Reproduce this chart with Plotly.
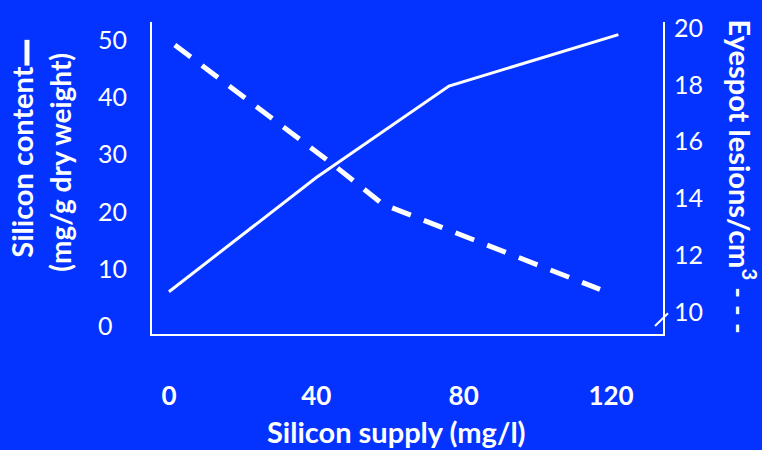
import plotly.graph_objects as go

# Data
supply_si = [0, 40, 76, 122]          # Silicon supply (mg/l) for silicon content line
si_content = [6, 26, 42, 51]          # Silicon content (mg/g dry weight)
supply_eye = [1.6, 44.5, 58, 117]     # Silicon supply (mg/l) for eyespot line
eyespot = [19.4, 15.2, 13.8, 10.8]    # Eyespot lesions/cm3

x_ticks = [0, 40, 80, 120]
y1_ticks = [0, 10, 20, 30, 40, 50]
y2_ticks = [10, 12, 14, 16, 18, 20]

BG = "#0433ff"
W = "white"
FONT = "Lato"

fig = go.Figure()
fig.add_trace(go.Scatter(x=supply_si, y=si_content, mode="lines",
                         line=dict(color=W, width=3), yaxis="y"))
fig.add_trace(go.Scatter(x=supply_eye, y=eyespot, mode="lines",
                         line=dict(color=W, width=5, dash="20px,14px"), yaxis="y2"))

L, R, T, B = 152, 663, 19, 334
WIDTH, HEIGHT = 762, 450

def px(xp):
    return (xp - L) / (R - L)

def py(yp):
    return (B - yp) / (B - T)

fig.update_layout(
    width=WIDTH, height=HEIGHT,
    paper_bgcolor=BG, plot_bgcolor=BG,
    showlegend=False,
    margin=dict(l=L, r=WIDTH - R, t=T, b=HEIGHT - B, pad=0),
    font=dict(family=FONT, color=W),
    xaxis=dict(range=[-4.6, 134.1], tickvals=x_ticks,
               ticktext=[f"<b>{v}</b>" for v in x_ticks],
               showline=True, linecolor=W, linewidth=2, showgrid=False,
               zeroline=False, ticks="", ticklabelstandoff=38,
               tickfont=dict(size=26, color=W, family=FONT)),
    yaxis=dict(range=[-1.39, 53.2], tickvals=y1_ticks,
               ticktext=[("%d" % v) if v >= 10 else ("%d\u2007" % v) for v in y1_ticks],
               showline=True, linecolor=W, linewidth=2, showgrid=False,
               zeroline=False, ticks="", ticklabelstandoff=18,
               tickfont=dict(size=25, color=W, family=FONT)),
    yaxis2=dict(range=[9.23, 20.21], tickvals=y2_ticks, overlaying="y", side="right",
                showline=True, linecolor=W, linewidth=2, showgrid=False,
                zeroline=False, ticks="", ticklabelstandoff=4,
                tickfont=dict(size=25, color=W, family=FONT)),
)

ann = [
    dict(text="<b>Silicon content</b>", x=px(22), y=py(161), textangle=-90,
         font=dict(size=29, color=W, family=FONT)),
    dict(text="<b>(mg/g dry weight)</b>", x=px(60), y=py(161), textangle=-90,
         font=dict(size=28, color=W, family=FONT)),
    dict(text="<b>Eyespot lesions/cm<sup>3</sup> - - -</b>", x=px(743), y=py(175), textangle=90,
         font=dict(size=29, color=W, family=FONT)),
    dict(text="<b>Silicon supply (mg/l)</b>", x=px(396), y=py(432),
         font=dict(size=29, color=W, family=FONT)),
]
for a in ann:
    a.update(xref="paper", yref="paper", showarrow=False, xanchor="center", yanchor="middle")
fig.update_layout(annotations=ann)

# decorative marks: legend dash after "Silicon content" and axis break on right axis
fig.add_shape(type="line", xref="paper", yref="paper",
              x0=px(27), x1=px(27), y0=py(37), y1=py(63), line=dict(color=W, width=5))
fig.add_shape(type="line", xref="paper", yref="paper",
              x0=px(655), x1=px(668), y0=py(326), y1=py(313), line=dict(color=W, width=2))

fig.write_html("out.html", config={"displayModeBar": False},
               post_script="document.body.style.margin='0';document.body.style.overflow='hidden';")
